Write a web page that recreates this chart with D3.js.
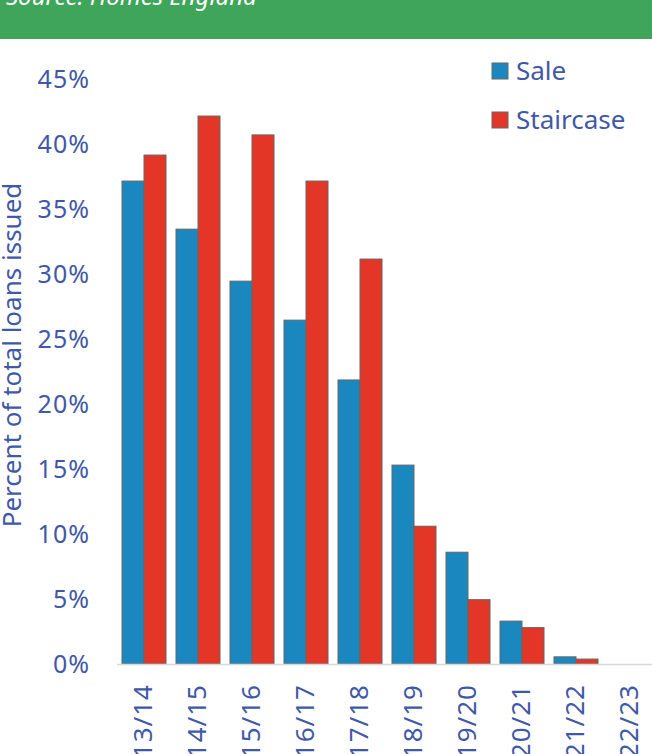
<!DOCTYPE html>
<html lang="en">
<head>
    <meta charset="UTF-8">
    <script src="https://d3js.org/d3.v7.min.js"></script>
    <style>
        body { margin: 0; background: white; }
        text { font-family: "Noto Sans", "Open Sans", sans-serif; }
    </style>
    <title>Loans issued</title>
</head>
<body>
<div id="chart"></div>
<script>
    var years = ["13/14", "14/15", "15/16", "16/17", "17/18", "18/19", "19/20", "20/21", "21/22", "22/23"];
    var seriesNames = ["Sale", "Staircase"];
    var saleValues = [37.15, 33.45, 29.45, 26.45, 21.85, 15.3, 8.6, 3.3, 0.55, 0];
    var staircaseValues = [39.15, 42.15, 40.7, 37.15, 31.15, 10.6, 4.95, 2.8, 0.38, 0];
    var yTicks = [0, 5, 10, 15, 20, 25, 30, 35, 40, 45];

    var canvasWidth = 652;
    var canvasHeight = 754;
    var textColor = "#3f58a8";
    var colors = {"Sale": "#1a87bf", "Staircase": "#e33626"};

    var svg = d3.select("#chart").append("svg")
        .attr("width", canvasWidth)
        .attr("height", canvasHeight);

    // green source banner (text is cut off at the top, like the original)
    svg.append("rect")
        .attr("x", 0).attr("y", 0)
        .attr("width", canvasWidth).attr("height", 39)
        .attr("fill", "#3ea55a");
    svg.append("text")
        .attr("x", 6).attr("y", 5)
        .attr("fill", "white")
        .attr("font-size", 24)
        .attr("font-style", "italic")
        .text("Source: Homes England");

    var xScale = d3.scaleBand().domain(years).range([117, 657]).paddingInner(0.185).paddingOuter(0.0925);
    var xSub = d3.scaleBand().domain(seriesNames).range([0, xScale.bandwidth()]);
    var yScale = d3.scaleLinear().domain([0, 45]).range([664, 79]);

    // y tick labels
    svg.append("g")
        .selectAll("text").data(yTicks).enter().append("text")
        .attr("x", 90)
        .attr("y", function(d) { return yScale(d); })
        .attr("dy", "0.36em")
        .attr("text-anchor", "end")
        .attr("font-size", 25)
        .attr("letter-spacing", 1)
        .attr("fill", textColor)
        .text(function(d) { return d + "%"; });

    // y axis title
    svg.append("text")
        .attr("transform", "translate(21, 355) rotate(-90)")
        .attr("text-anchor", "middle")
        .attr("font-size", 26)
        .attr("fill", textColor)
        .text("Percent of total loans issued");

    // bars
    var rows = years.map(function(y, i) {
        return {year: y, values: [{name: "Sale", v: saleValues[i]}, {name: "Staircase", v: staircaseValues[i]}]};
    });
    var groups = svg.append("g").selectAll("g").data(rows).enter().append("g")
        .attr("transform", function(d) { return "translate(" + xScale(d.year) + ",0)"; });
    groups.selectAll("rect")
        .data(function(d) { return d.values.filter(function(e) { return e.v > 0; }); })
        .enter().append("rect")
        .attr("x", function(d) { return xSub(d.name); })
        .attr("y", function(d) { return yScale(d.v); })
        .attr("width", xSub.bandwidth())
        .attr("height", function(d) { return yScale(0) - yScale(d.v); })
        .attr("fill", function(d) { return colors[d.name]; })
        .attr("stroke", "#666")
        .attr("stroke-width", 1);

    // baseline
    svg.append("line")
        .attr("x1", 117).attr("x2", 652)
        .attr("y1", yScale(0) + 0.5).attr("y2", yScale(0) + 0.5)
        .attr("stroke", "#d9d9d9")
        .attr("stroke-width", 1.5);

    // x labels
    svg.append("g").selectAll("text").data(years).enter().append("text")
        .attr("transform", function(d) {
            return "translate(" + (xScale(d) + xScale.bandwidth() / 2 - 1) + ", 684) rotate(-90)";
        })
        .attr("text-anchor", "end")
        .attr("dy", "0.36em")
        .attr("font-size", 26)
        .attr("letter-spacing", 1)
        .attr("fill", textColor)
        .text(function(d) { return d; });

    // legend
    var legend = svg.append("g").selectAll("g").data(seriesNames).enter().append("g")
        .attr("transform", function(d, i) { return "translate(492," + (63 + i * 49) + ")"; });
    legend.append("rect")
        .attr("width", 16).attr("height", 16)
        .attr("fill", function(d) { return colors[d]; })
        .attr("stroke", "#666");
    legend.append("text")
        .attr("x", 24).attr("y", 8)
        .attr("dy", "0.36em")
        .attr("font-size", 26)
        .attr("fill", textColor)
        .text(function(d) { return d; });
</script>
</body>
</html>
